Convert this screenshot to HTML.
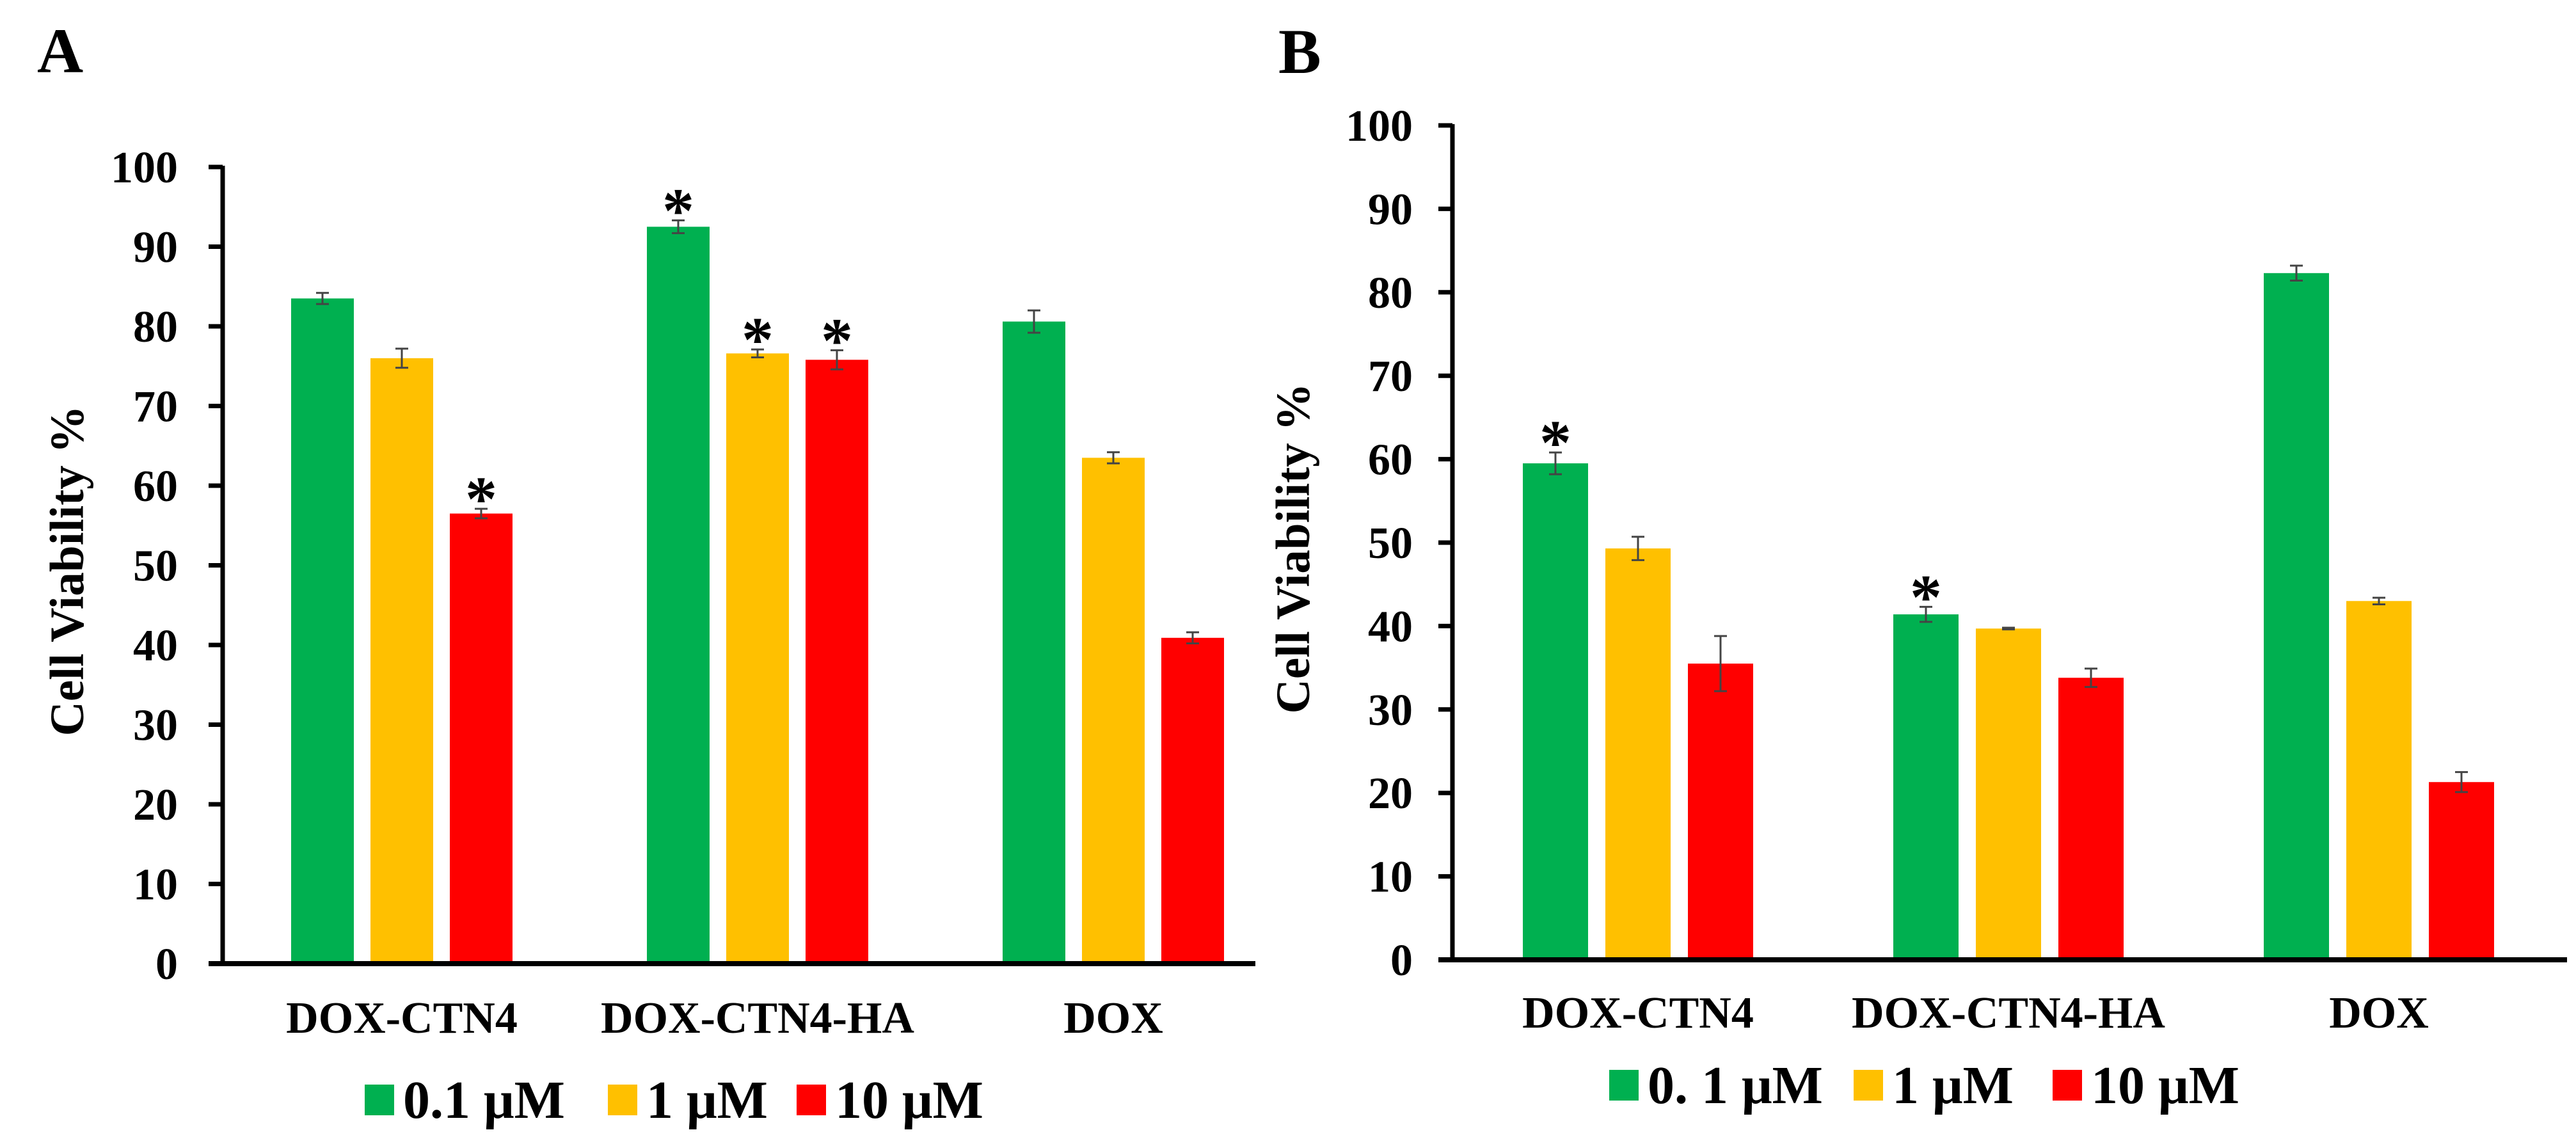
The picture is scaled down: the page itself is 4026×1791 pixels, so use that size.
<!DOCTYPE html>
<html><head><meta charset="utf-8"><style>
html,body{margin:0;padding:0;background:#fff}
svg{display:block}
text{font-family:"Liberation Serif",serif;font-weight:bold;fill:#000}
</style></head><body>
<svg id="fig" width="4026" height="1791" viewBox="0 0 4026 1791" xmlns="http://www.w3.org/2000/svg">
<text x="58" y="113" font-size="100">A</text>
<text x="1998" y="114" font-size="100">B</text>
<g id="chartA"></g>
<g id="chartB"></g>
</svg>
<script>
const categories = ["DOX-CTN4", "DOX-CTN4-HA", "DOX"];
const seriesNames = ["0.1 μM", "1 μM", "10 μM"];
const seriesNamesB = ["0. 1 μM", "1 μM", "10 μM"];
const tickValues = [0,10,20,30,40,50,60,70,80,90,100];
const colors = ["#00b050", "#ffc000", "#ff0000"];
const valuesA_01 = [83.5, 92.5, 80.6];
const valuesA_1 = [76.0, 76.6, 63.5];
const valuesA_10 = [56.5, 75.8, 40.9];
const errorsA_01 = [0.7, 0.8, 1.4];
const errorsA_1 = [1.2, 0.5, 0.7];
const errorsA_10 = [0.6, 1.2, 0.7];
const starsA_01 = [false, true, false];
const starsA_1 = [false, true, false];
const starsA_10 = [true, true, false];
const valuesB_01 = [59.5, 41.4, 82.3];
const valuesB_1 = [49.3, 39.7, 43.0];
const valuesB_10 = [35.5, 33.8, 21.3];
const errorsB_01 = [1.3, 0.9, 0.9];
const errorsB_1 = [1.4, 0.1, 0.4];
const errorsB_10 = [3.3, 1.1, 1.2];
const starsB_01 = [true, true, false];
const starsB_1 = [false, false, false];
const starsB_10 = [false, false, false];

const NS = "http://www.w3.org/2000/svg";
function mk(parent, tag, attrs, txt) {
  const e = document.createElementNS(NS, tag);
  for (const k in attrs) e.setAttribute(k, attrs[k]);
  if (txt !== undefined) e.textContent = txt;
  parent.appendChild(e);
  return e;
}

function drawChart(g, cfg, vals, errs, stars, names) {
  const y = v => cfg.y0 - (v / 100) * (cfg.y0 - cfg.y100);
  const xc = (ci, si) => cfg.g0 + ci * cfg.gStep + (si - 1) * cfg.bStep;
  for (let s = 0; s < 3; s++) {
    for (let c = 0; c < categories.length; c++) {
      const v = vals[s][c], cx = xc(c, s);
      const r = mk(g, "rect", {x: cx - cfg.bw/2, y: y(v), width: cfg.bw, height: cfg.y0 - y(v), fill: colors[s]});
      
      
      const e = errs[s][c];
      const eg = mk(g, "g", {stroke: "#444", "stroke-width": 3});
      
      
      mk(eg, "line", {x1: cx, x2: cx, y1: y(v + e), y2: y(v - e)});
      mk(eg, "line", {x1: cx - 10, x2: cx + 10, y1: y(v + e), y2: y(v + e)});
      mk(eg, "line", {x1: cx - 10, x2: cx + 10, y1: y(v - e), y2: y(v - e)});
      if (stars[s][c]) {
        const t = mk(g, "text", {x: cx, y: y(v + e) + 18, "font-size": 100, "text-anchor": "middle"}, "*");
        
        
      }
    }
  }
  const ya = mk(g, "line", {x1: cfg.ax, x2: cfg.ax, y1: cfg.y100 - 2, y2: cfg.y0 + 4, stroke: "#000", "stroke-width": 7});
  
  
  const xa = mk(g, "line", {x1: cfg.ax - 22, x2: cfg.axEnd, y1: cfg.y0, y2: cfg.y0, stroke: "#000", "stroke-width": 8});
  
  
  tickValues.forEach(t => {
    mk(g, "line", {x1: cfg.ax - 22, x2: cfg.ax, y1: y(t), y2: y(t), stroke: "#000", "stroke-width": 7});
    const l = mk(g, "text", {x: cfg.ax - cfg.lblGap, y: y(t) + 24, "font-size": 70, "text-anchor": "end"}, String(t));
    
    
  });
  categories.forEach((c, i) => {
    const l = mk(g, "text", {x: xc(i, 1), y: cfg.xlY, "font-size": 70, "text-anchor": "middle"}, c);
    
    
  });
  const tt = mk(g, "text", {x: 0, y: 0, "font-size": 75, "text-anchor": "middle", transform: `translate(${cfg.titleX},${cfg.titleY}) rotate(-90)`}, "Cell Viability %");
  
  
  for (let s = 0; s < 3; s++) {
    const lg = mk(g, "g", {});
    
    
    mk(lg, "rect", {x: cfg.legX[s], y: cfg.legY - 24, width: 46, height: 48, fill: colors[s]});
    mk(lg, "text", {x: cfg.legX[s] + 60, y: cfg.legY + 28, "font-size": 84}, names[s]);
  }
}

drawChart(document.getElementById("chartA"),
  {y0: 1506, y100: 261, ax: 348, axEnd: 1962, g0: 628, gStep: 556, bStep: 124, bw: 98,
   lblGap: 70, xlY: 1614, titleX: 130, titleY: 892, legY: 1719, legX: [570, 950, 1245]},
  [valuesA_01, valuesA_1, valuesA_10], [errorsA_01, errorsA_1, errorsA_10], [starsA_01, starsA_1, starsA_10], seriesNames);
drawChart(document.getElementById("chartB"),
  {y0: 1500, y100: 196, ax: 2270, axEnd: 4012, g0: 2560, gStep: 579, bStep: 129, bw: 102,
   lblGap: 62, xlY: 1606, titleX: 2046, titleY: 857, legY: 1696, legX: [2515, 2897, 3208]},
  [valuesB_01, valuesB_1, valuesB_10], [errorsB_01, errorsB_1, errorsB_10], [starsB_01, starsB_1, starsB_10], seriesNamesB);
</script>
</body></html>
